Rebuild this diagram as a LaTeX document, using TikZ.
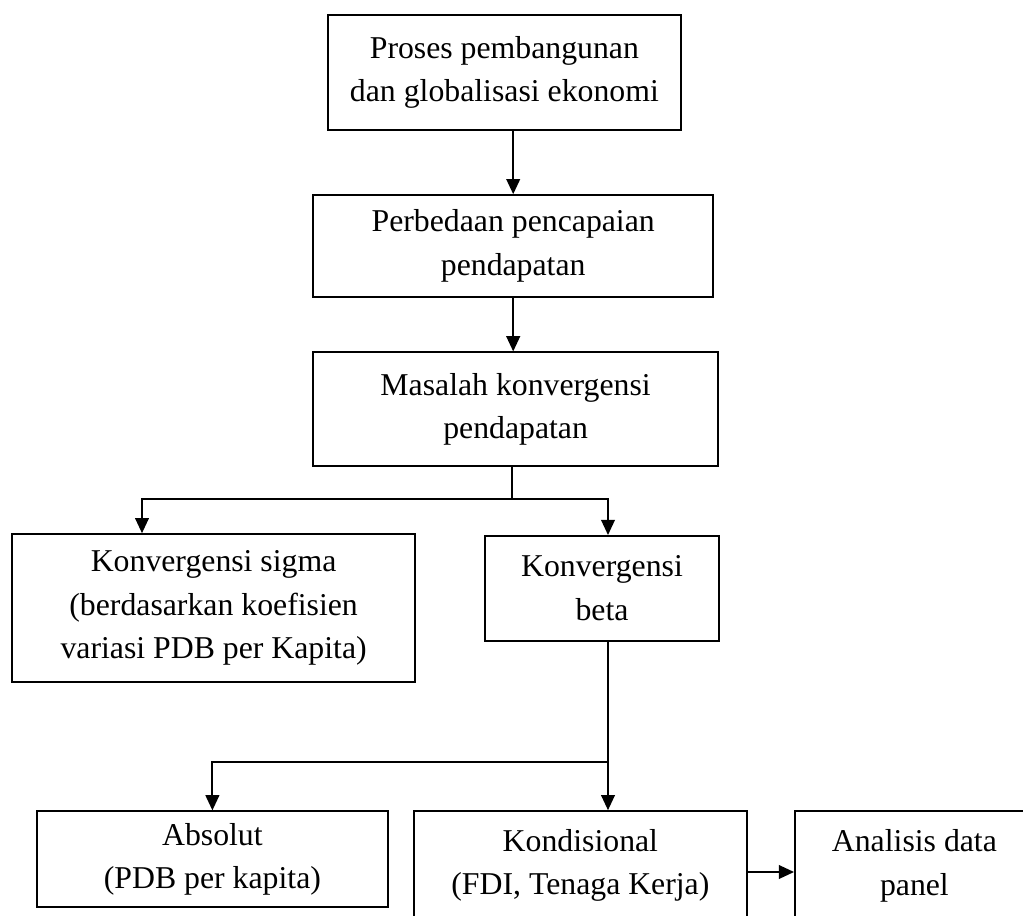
\documentclass[tikz,border=0pt]{standalone}
\usepackage{fontspec}
\setmainfont{Liberation Serif}
\usetikzlibrary{shapes,arrows.meta,positioning,calc}
\tikzstyle{line} = [draw, -{Triangle[length=3.8mm,width=3.4mm]}, line width=1.5pt]
\tikzstyle{link} = [draw, line width=1.5pt]

\begin{document}
\begin{tikzpicture}[box/.style={rectangle,draw=black,line width=1.1pt,align=center,inner sep=0pt,font=\fontsize{22.6}{31}\selectfont}]

    \clip (0,0) rectangle (25.575,-22.9);

    \node[box, minimum width=8.83cm, minimum height=2.88cm] (proses) at (12.61,-1.81) {Proses pembangunan\\dan globalisasi ekonomi};
    \node[box, minimum width=10cm, minimum height=2.55cm] (perbedaan) at (12.83,-6.15) {Perbedaan pencapaian\\pendapatan};
    \node[box, minimum width=10.13cm, minimum height=2.85cm] (masalah) at (12.89,-10.23) {Masalah konvergensi\\pendapatan};

    \node[box, minimum width=10.08cm, minimum height=3.7cm] (sigma) at (5.34,-15.2) {Konvergensi sigma\\(berdasarkan koefisien\\variasi PDB per Kapita)};
    \node[box, minimum width=5.85cm, minimum height=2.63cm] (beta) at (15.05,-14.71) {Konvergensi\\beta};

    \node[box, minimum width=8.78cm, minimum height=2.4cm] (absolut) at (5.31,-21.48) {Absolut\\(PDB per kapita)};
    \node[box, minimum width=8.33cm, minimum height=2.73cm] (kondisional) at (14.51,-21.64) {Kondisional\\(FDI, Tenaga Kerja)};
    \node[box, minimum width=5.98cm, minimum height=2.73cm] (panel) at (22.86,-21.64) {Analisis data\\panel};

    \draw[line] (proses.south -| perbedaan.north) -- (perbedaan.north);
    \draw[line] (perbedaan.south) -- (perbedaan.south |- masalah.north);

    % cabang sigma / beta
    \coordinate (split) at (12.8,-12.48);
    \draw[link] (masalah.south -| split) -- (split);
    \draw[line] (split) -| ([xshift=-1.79cm]sigma.north);
    \draw[line] (split) -| ([xshift=0.15cm]beta.north);

    % cabang absolut / kondisional
    \coordinate (split2) at (15.2,-19.05);
    \draw[link] (beta.south -| split2) -- (split2);
    \draw[line] (split2) -| (absolut.north);
    \draw[line] (split2) -- (split2 |- kondisional.north);

    \draw[line] ([yshift=-0.16cm]kondisional.east) -- ([yshift=-0.16cm]kondisional.east -| panel.west);

\end{tikzpicture}
\end{document}
